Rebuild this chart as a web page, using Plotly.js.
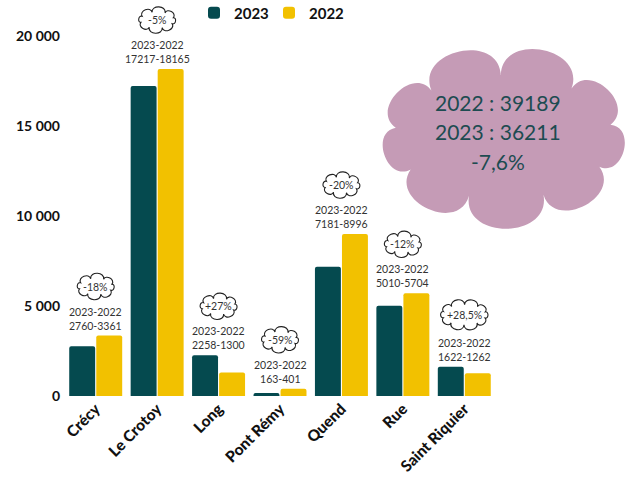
<!DOCTYPE html>
<html><head><meta charset="utf-8">
<script src="https://cdn.plot.ly/plotly-3.0.1.min.js"></script>
<style>html,body{margin:0;padding:0;background:#fff}#chart{width:630px;height:481px}</style>
</head><body><div id="chart"></div>
<script>
const categories = ['Crécy','Le Crotoy','Long','Pont Rémy','Quend','Rue','Saint Riquier'];
const values2023 = [2760,17217,2258,163,7181,5010,1622];
const values2022 = [3361,18165,1300,401,8996,5704,1262];
const changeLabels = ['-18%','-5%','+27%','-59%','-20%','-12%','+28,5%'];
const yTickVals = [0,5000,10000,15000,20000];
const yTickText = ['0','5\u202f000','10\u202f000','15\u202f000','20\u202f000'];
const total2022 = 39189;
const total2023 = 36211;
const totalChange = '-7,6%';

const C23 = '#054a4f', C22 = '#f2c100', INK = '#333333', TEAL = '#1d4b51';
const FONT = 'Lato, "Open Sans", sans-serif';

function cloudPath(cx, cy, a, b, n, k, rot) {
  const pts = [];
  for (let i = 0; i < n; i++) {
    const t = rot + 2 * Math.PI * i / n;
    pts.push([cx + a * Math.cos(t), cy + b * Math.sin(t)]);
  }
  const f = v => v.toFixed(2);
  let p = 'M' + f(pts[0][0]) + ',' + f(pts[0][1]);
  for (let i = 0; i < n; i++) {
    const A = pts[i], B = pts[(i + 1) % n];
    const vx = B[0] - A[0], vy = B[1] - A[1];
    const L = Math.hypot(vx, vy), d = k * L;
    const nx = vy / L, ny = -vx / L;
    p += 'C' + f(A[0] + nx * d - vx * 0.1) + ',' + f(A[1] + ny * d - vy * 0.1) + ' ' +
         f(B[0] + nx * d + vx * 0.1) + ',' + f(B[1] + ny * d + vy * 0.1) + ' ' +
         f(B[0]) + ',' + f(B[1]);
  }
  return p + 'Z';
}

const traces = [
  {type: 'bar', name: '2023', x: categories, y: values2023, marker: {color: C23, cornerradius: 2}, hoverinfo: 'skip'},
  {type: 'bar', name: '2022', x: categories, y: values2022, marker: {color: C22, cornerradius: 2}, hoverinfo: 'skip'}
];

const shapes = [];
const annotations = [];
categories.forEach((c, i) => {
  const top = Math.max(values2023[i], values2022[i]);
  const big = changeLabels[i].length > 5;
  const lift = big ? 52 : 49;
  shapes.push({
    type: 'path', xref: 'x', yref: 'y', xsizemode: 'pixel', ysizemode: 'pixel',
    xanchor: c, yanchor: top,
    path: big ? cloudPath(0, lift, 22, 10, 10, 0.6, 0.3) : cloudPath(0, lift, 17, 8, 8, 0.6, 0.3),
    fillcolor: 'rgba(255,255,255,0)', line: {color: '#222', width: 1.1}
  });
  annotations.push({
    x: c, y: top, xref: 'x', yref: 'y', yanchor: 'bottom', yshift: 2, showarrow: false,
    text: '2023-2022<br>' + values2023[i] + '-' + values2022[i],
    font: {family: FONT, size: 10.5, color: INK}
  });
  annotations.push({
    x: c, y: top, xref: 'x', yref: 'y', yanchor: 'middle', yshift: lift, showarrow: false,
    text: changeLabels[i], font: {family: FONT, size: 10.5, color: INK}
  });
});

shapes.push({
  type: 'path', xref: 'paper', yref: 'paper', xsizemode: 'pixel', ysizemode: 'pixel',
  xanchor: 1.02, yanchor: 0.654,
  path: cloudPath(0, 0, 109, 62, 9, 0.6, 0.2),
  fillcolor: '#c59bb6', line: {width: 0}, layer: 'below'
});
[['2022 : ' + total2022, 0.740], ['2023 : ' + total2023, 0.667], [totalChange, 0.593]].forEach(([t, y]) => {
  annotations.push({x: 1.007, y: y, xref: 'paper', yref: 'paper', xanchor: 'center', yanchor: 'middle',
    showarrow: false, text: t, font: {family: FONT, size: 21, color: TEAL}});
});

const layout = {
  width: 630, height: 481,
  margin: {l: 65, r: 135, t: 0, b: 85, autoexpand: false},
  paper_bgcolor: '#fff', plot_bgcolor: 'rgba(0,0,0,0)',
  barmode: 'group', bargap: 0.12, bargroupgap: 0.04,
  font: {family: FONT},
  showlegend: true,
  legend: {orientation: 'h', x: 0.30, xanchor: 'left', y: 0.967, yanchor: 'middle',
    entrywidth: 30, entrywidthmode: 'pixels',
    font: {family: FONT, size: 15, weight: 'bold', color: '#111'}, bgcolor: 'rgba(0,0,0,0)'},
  xaxis: {tickangle: -45, showgrid: false, showline: false, zeroline: false, ticks: '',
    tickfont: {family: FONT, size: 15.5, weight: 900, color: '#111'}},
  yaxis: {range: [0, 22000], tickvals: yTickVals, ticktext: yTickText, showgrid: false, zeroline: false,
    showline: false, ticks: '', ticklabelstandoff: 4,
    tickfont: {family: FONT, size: 14, weight: 'bold', color: '#111'}},
  shapes: shapes, annotations: annotations
};
Plotly.newPlot('chart', traces, layout, {displayModeBar: false, staticPlot: true});
</script></body></html>
